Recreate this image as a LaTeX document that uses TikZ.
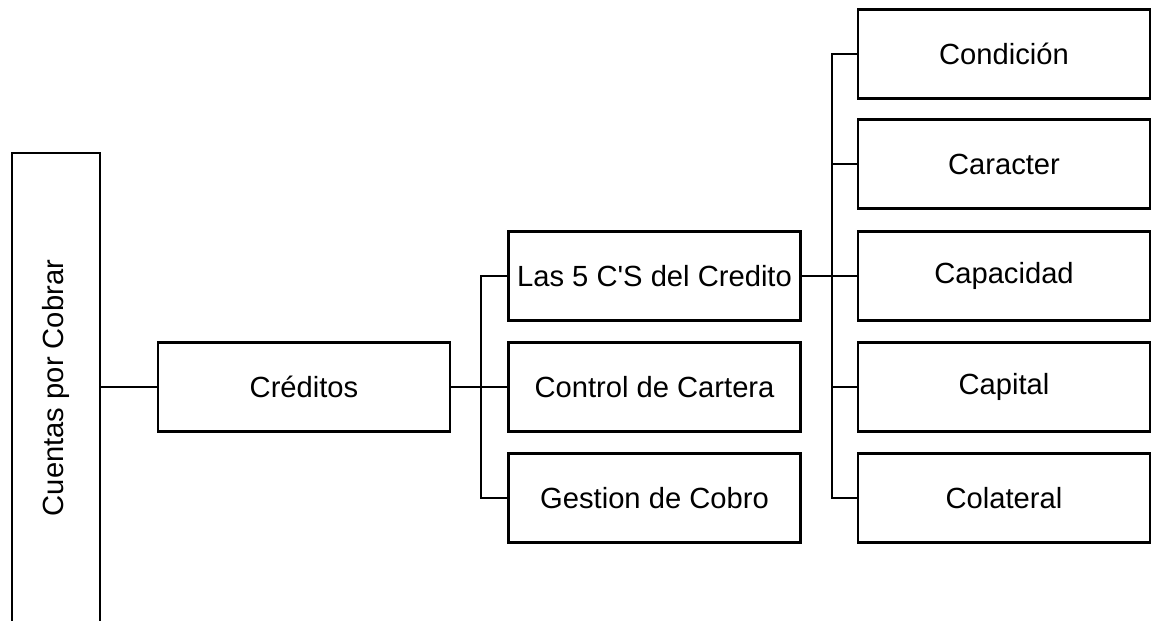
\documentclass[tikz,border=0pt]{standalone}
\usepackage{fontspec}
\setmainfont{Liberation Sans}
\usepackage{tikz}
\usetikzlibrary{positioning}

\begin{document}
\begin{tikzpicture}[
    box/.style={draw, line width=1.2pt, minimum width=5.84cm, minimum height=1.78cm,
                inner sep=0pt, font=\fontsize{16.6}{20}\selectfont},
    tall/.style={box, rotate=90, minimum width=9.4cm, minimum height=1.76cm},
    link/.style={line width=1.2pt}
  ]
  \useasboundingbox (0,0) rectangle (23.02,-12.4);

  % main column
  \node[tall] (cuentas) at (1.12,-7.76) {Cuentas por Cobrar};
  \node[box] (creditos) at (6.08,-7.74) {Créditos};

  % second level
  \node[box] (cinco)   at (13.09,-5.52) {Las 5 C\textquotesingle S del Credito};
  \node[box] (control) at (13.09,-7.74) {Control de Cartera};
  \node[box] (gestion) at (13.09,-9.96) {Gestion de Cobro};

  % the five C's
  \foreach \n/\t/\y in {condicion/Condición/-1.08, caracter/Caracter/-3.28,
                        capacidad/Capacidad/-5.52, capital/Capital/-7.74,
                        colateral/Colateral/-9.96} {
    \node[box] (\n) at (20.08,\y) {\t};
  }

  % connectors
  \draw[link] (creditos.west) -- (creditos.west -| cuentas.south);
  \draw[link] (creditos.east) -- ++(0.6,0) coordinate (j1);
  \foreach \n in {cinco, control, gestion}
    \draw[link] (j1) |- (\n.west);
  \draw[link] (cinco.east) -- ++(0.6,0) coordinate (j2);
  \foreach \n in {condicion, caracter, capacidad, capital, colateral}
    \draw[link] (j2) |- (\n.west);
\end{tikzpicture}
\end{document}
